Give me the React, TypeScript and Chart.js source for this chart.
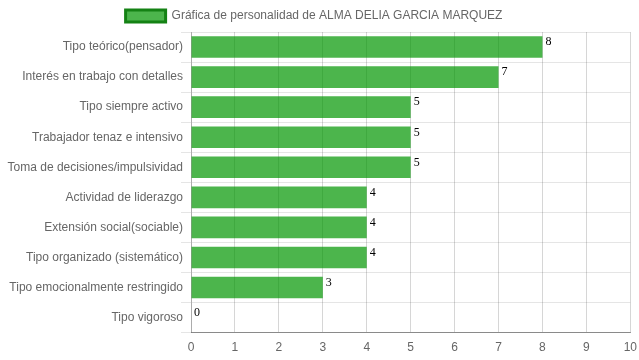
import React, { useEffect, useRef } from "react";
import { Chart, registerables } from "chart.js";

Chart.register(...registerables);

const categories = [
  "Tipo teórico(pensador)",
  "Interés en trabajo con detalles",
  "Tipo siempre activo",
  "Trabajador tenaz e intensivo",
  "Toma de decisiones/impulsividad",
  "Actividad de liderazgo",
  "Extensión social(sociable)",
  "Tipo organizado (sistemático)",
  "Tipo emocionalmente restringido",
  "Tipo vigoroso",
];
const values = [8, 7, 5, 5, 5, 4, 4, 4, 3, 0];
const seriesLabel = "Gráfica de personalidad de ALMA DELIA GARCIA MARQUEZ";

const FONT = '"Liberation Sans", Arial, sans-serif';

const valueLabels = {
  id: "valueLabels",
  afterDatasetsDraw(chart: any) {
    const ctx = chart.ctx;
    const meta = chart.getDatasetMeta(0);
    ctx.save();
    ctx.font = '12px "Liberation Serif", serif';
    ctx.fillStyle = "#000";
    ctx.textAlign = "left";
    ctx.textBaseline = "top";
    meta.data.forEach((bar: any, i: number) => {
      const top = bar.y - bar.height / 2;
      ctx.fillText(String(values[i]), bar.x + 3, top);
    });
    ctx.restore();
  },
};

export default function App() {
  const ref = useRef<HTMLCanvasElement>(null);
  useEffect(() => {
    if (!ref.current) return;
    const chart = new Chart(ref.current, {
      type: "bar",
      data: {
        labels: categories,
        datasets: [
          {
            label: seriesLabel,
            data: values,
            backgroundColor: "rgba(0,150,0,0.7)",
            borderWidth: 0,
            categoryPercentage: 0.8,
            barPercentage: 0.9,
          },
        ],
      },
      options: {
        indexAxis: "y",
        animation: false,
        responsive: false,
        maintainAspectRatio: false,
        layout: { padding: { left: 0, right: 0, top: 0, bottom: -3 } },
        font: { family: FONT, size: 12 },
        plugins: {
          tooltip: { enabled: false },
          legend: {
            display: true,
            position: "top",
            labels: {
              color: "#666",
              boxWidth: 40,
              boxHeight: 12,
              padding: 10,
              font: { family: FONT, size: 12 },
              generateLabels(chart: any) {
                const items = (Chart as any).defaults.plugins.legend.labels.generateLabels(chart);
                items.forEach((it: any) => {
                  it.lineWidth = 3;
                  it.strokeStyle = "rgb(20,130,20)";
                  it.fillStyle = "rgba(0,150,0,0.7)";
                });
                return items;
              },
            },
          },
        },
        scales: {
          x: {
            min: 0,
            max: 10,
            ticks: {
              stepSize: 1,
              color: "#666",
              padding: 8,
              font: { family: FONT, size: 12 },
            },
            grid: {
              color: "rgba(0,0,0,0.16)",
              drawTicks: false,
            },
            border: { color: "rgba(0,0,0,0.4)" },
          },
          y: {
            afterFit(scale: any) {
              scale.width = 208;
            },
            ticks: {
              color: "#666",
              padding: -2,
              font: { family: FONT, size: 12 },
            },
            grid: {
              color: "rgba(0,0,0,0.1)",
              tickLength: 10,
            },
            border: { color: "rgba(0,0,0,0.2)" },
          },
        },
      },
      plugins: [valueLabels],
    });
    return () => chart.destroy();
  }, []);
  return (
    <div
      style={{
        position: "absolute",
        left: 0,
        top: 0,
        width: 639,
        height: 360,
        overflow: "hidden",
        background: "#fff",
      }}
    >
      <canvas
        ref={ref}
        width={662}
        height={360}
        style={{ display: "block", position: "absolute", left: -17, top: 0 }}
      />
    </div>
  );
}
